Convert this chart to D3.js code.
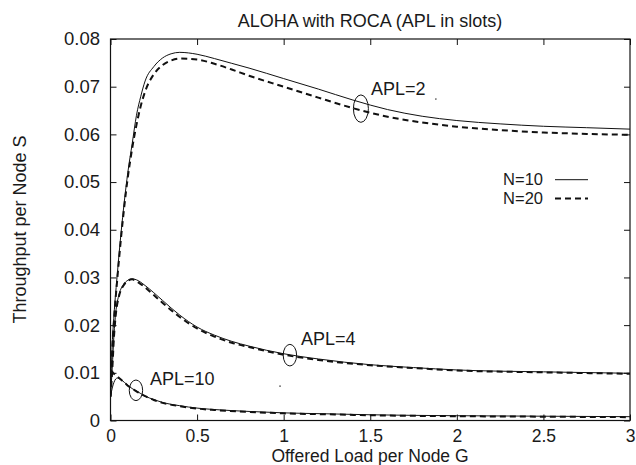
<!DOCTYPE html>
<html><head><meta charset="utf-8">
<script src="https://cdn.jsdelivr.net/npm/d3@7"></script>
<style>
body{margin:0;background:#fff;}
text{font-family:"Liberation Sans",Arial,Helvetica,sans-serif;fill:#1a1a1a;}
</style></head>
<body><svg id="c" width="636" height="465"></svg>
<script>
// ---- data ----
const title = "ALOHA with ROCA (APL in slots)";
const xLabel = "Offered Load per Node G";
const yLabel = "Throughput per Node S";
const xTicks = [0, 0.5, 1, 1.5, 2, 2.5, 3];
const yTicks = [0, 0.01, 0.02, 0.03, 0.04, 0.05, 0.06, 0.07, 0.08];
const legendLabels = ["N=10", "N=20"];

const gApl2 = [0,0.01,0.02,0.04,0.06,0.08,0.1,0.125,0.15,0.175,0.2,0.25,0.3,0.35,0.4,0.5,0.6,0.7,0.8,1.0,1.2,1.4,1.6,1.8,2.0,2.25,2.5,2.75,3.0];
const apl2N10 = [0.005,0.016,0.022,0.031,0.039,0.046,0.052,0.058,0.064,0.068,0.0712,0.0742,0.0760,0.0769,0.0772,0.0768,0.0759,0.0749,0.0739,0.0717,0.0695,0.0672,0.0652,0.0638,0.0629,0.0622,0.0617,0.0614,0.0611];
const apl2N20 = [0.005,0.015,0.021,0.030,0.038,0.045,0.051,0.057,0.062,0.066,0.069,0.0726,0.0745,0.0755,0.0759,0.0757,0.0748,0.0736,0.0723,0.0700,0.0677,0.0655,0.0637,0.0625,0.0616,0.0609,0.0604,0.0601,0.0599];

const gApl4 = [0,0.01,0.02,0.03,0.05,0.075,0.1,0.125,0.15,0.2,0.25,0.3,0.4,0.5,0.6,0.7,0.8,1.0,1.2,1.5,1.75,2.0,2.5,3.0];
const apl4N10 = [0.005,0.011,0.018,0.0225,0.0265,0.0285,0.0294,0.0297,0.0295,0.0283,0.0268,0.0252,0.0221,0.0196,0.0179,0.0166,0.0156,0.0140,0.0129,0.0117,0.0111,0.0106,0.0102,0.0099];
const apl4N20 = [0.005,0.0105,0.0175,0.022,0.0262,0.0283,0.0293,0.0296,0.0292,0.0279,0.0263,0.0247,0.0217,0.0193,0.0176,0.0163,0.0154,0.0138,0.0127,0.0116,0.0110,0.0105,0.0101,0.0098];

const gApl10 = [0,0.01,0.02,0.03,0.04,0.06,0.08,0.1,0.125,0.15,0.2,0.25,0.3,0.4,0.5,0.6,0.8,1.0,1.25,1.5,2.0,2.5,3.0];
const apl10N10 = [0.005,0.0068,0.0080,0.0087,0.0089,0.0086,0.0080,0.0074,0.0067,0.0062,0.0051,0.0044,0.0038,0.0031,0.0026,0.0023,0.0019,0.0016,0.0014,0.0012,0.0010,0.0009,0.0008];
const apl10N20 = [0.0105,0.0102,0.0098,0.0095,0.0092,0.0086,0.0080,0.0073,0.0067,0.0061,0.0051,0.0043,0.0037,0.0030,0.0025,0.0022,0.0018,0.0015,0.0013,0.0011,0.0009,0.0008,0.0007];

// annotations
const annLabels = ["APL=2", "APL=4", "APL=10"];
const annTextG = [1.504, 1.10, 0.228];
const annTextS = [0.0683, 0.0158, 0.00745];
const annEllG = [1.446, 1.036, 0.147];
const annEllS = [0.0654, 0.0137, 0.00633];
const annEllRx = [7.5, 6.7, 6.7];
const annEllRy = [13.7, 10.8, 10.3];
const strayG = [1.879, 0.979];
const strayS = [0.0674, 0.0072];

// ---- drawing ----
const svg = d3.select("#c");
const L = 110.5, R = 630, T = 39, B = 420.5;
const x = d3.scaleLinear().domain([0, 3]).range([L, R]);
const y = d3.scaleLinear().domain([0, 0.08]).range([B, T]);
const FS = 18;

function styleAxis(size){
  return g => {
    g.select(".domain").remove();
    g.selectAll(".tick line").attr("stroke","#111").attr("stroke-width",1);
    g.selectAll(".tick text").style("font-size", size+"px").attr("fill","#1a1a1a")
      .style("font-family","'Liberation Sans',Arial,sans-serif");
  };
}
svg.append("g").attr("transform",`translate(0,${B})`)
  .call(d3.axisBottom(x).tickValues(xTicks).tickFormat(d3.format("")).tickSize(-6).tickPadding(9))
  .call(styleAxis(17.5));
svg.append("g").attr("transform",`translate(0,${T})`)
  .call(d3.axisTop(x).tickValues(xTicks).tickFormat("").tickSize(-6))
  .call(styleAxis(17.5));
svg.append("g").attr("transform",`translate(${L},0)`)
  .call(d3.axisLeft(y).tickValues(yTicks).tickFormat(d => d === 0 ? "0" : d3.format(".2f")(d)).tickSize(-6).tickPadding(10.5))
  .call(styleAxis(18.5));
svg.append("g").attr("transform",`translate(${R},0)`)
  .call(d3.axisRight(y).tickValues(yTicks).tickFormat("").tickSize(-6))
  .call(styleAxis(18.5));

svg.append("rect").attr("x",L).attr("y",T).attr("width",R-L).attr("height",B-T)
  .attr("fill","none").attr("stroke","#111").attr("stroke-width",1.2);

const line = d3.line().x(d=>x(d[0])).y(d=>y(d[1])).curve(d3.curveMonotoneX);
const series = [
  [gApl2, apl2N10, 0], [gApl2, apl2N20, 1],
  [gApl4, apl4N10, 0], [gApl4, apl4N20, 1],
  [gApl10, apl10N10, 0], [gApl10, apl10N20, 1]
];
svg.append("clipPath").attr("id","pc").append("rect")
  .attr("x",L).attr("y",T).attr("width",R-L).attr("height",B-T);
const pg = svg.append("g").attr("clip-path","url(#pc)");
series.filter(s=>s[2]===1).concat(series.filter(s=>s[2]===0)).forEach(s=>{
  const pts = s[0].map((g,i)=>[g, s[1][i]]);
  const p = pg.append("path").attr("d", line(pts)).attr("fill","none").attr("stroke","#111");
  if (s[2]===1) p.attr("stroke-width",2).attr("stroke-dasharray","6,4");
  else p.attr("stroke-width",1);
});

// annotations
annLabels.forEach((t,i)=>{
  svg.append("ellipse").attr("cx",x(annEllG[i])).attr("cy",y(annEllS[i]))
    .attr("rx",annEllRx[i]).attr("ry",annEllRy[i])
    .attr("fill","none").attr("stroke","#111").attr("stroke-width",1);
  svg.append("text").attr("x",x(annTextG[i])).attr("y",y(annTextS[i]))
    .style("font-size",FS+"px").text(t);
});
strayG.forEach((g,i)=>{
  svg.append("circle").attr("cx",x(g)).attr("cy",y(strayS[i])).attr("r",0.8).attr("fill","#444");
});

// legend
const legY = [185, 204];
const legLineY = [179.7, 198.5];
legendLabels.forEach((t,i)=>{
  svg.append("text").attr("x",543).attr("y",legY[i]).attr("text-anchor","end")
    .style("font-size","16.5px").text(t);
  const l = svg.append("line").attr("x1",555).attr("x2",588).attr("y1",legLineY[i]).attr("y2",legLineY[i])
    .attr("stroke","#111");
  if (i===1) l.attr("stroke-width",2).attr("stroke-dasharray","6,4");
  else l.attr("stroke-width",1);
});

// titles
svg.append("text").attr("x",370).attr("y",27).attr("text-anchor","middle").style("font-size",FS+"px").text(title);
svg.append("text").attr("x",370).attr("y",462).attr("text-anchor","middle").style("font-size","17.5px").text(xLabel);
svg.append("text").attr("transform","translate(26,229.5) rotate(-90)").attr("text-anchor","middle")
  .style("font-size",FS+"px").text(yLabel);
</script></body></html>
